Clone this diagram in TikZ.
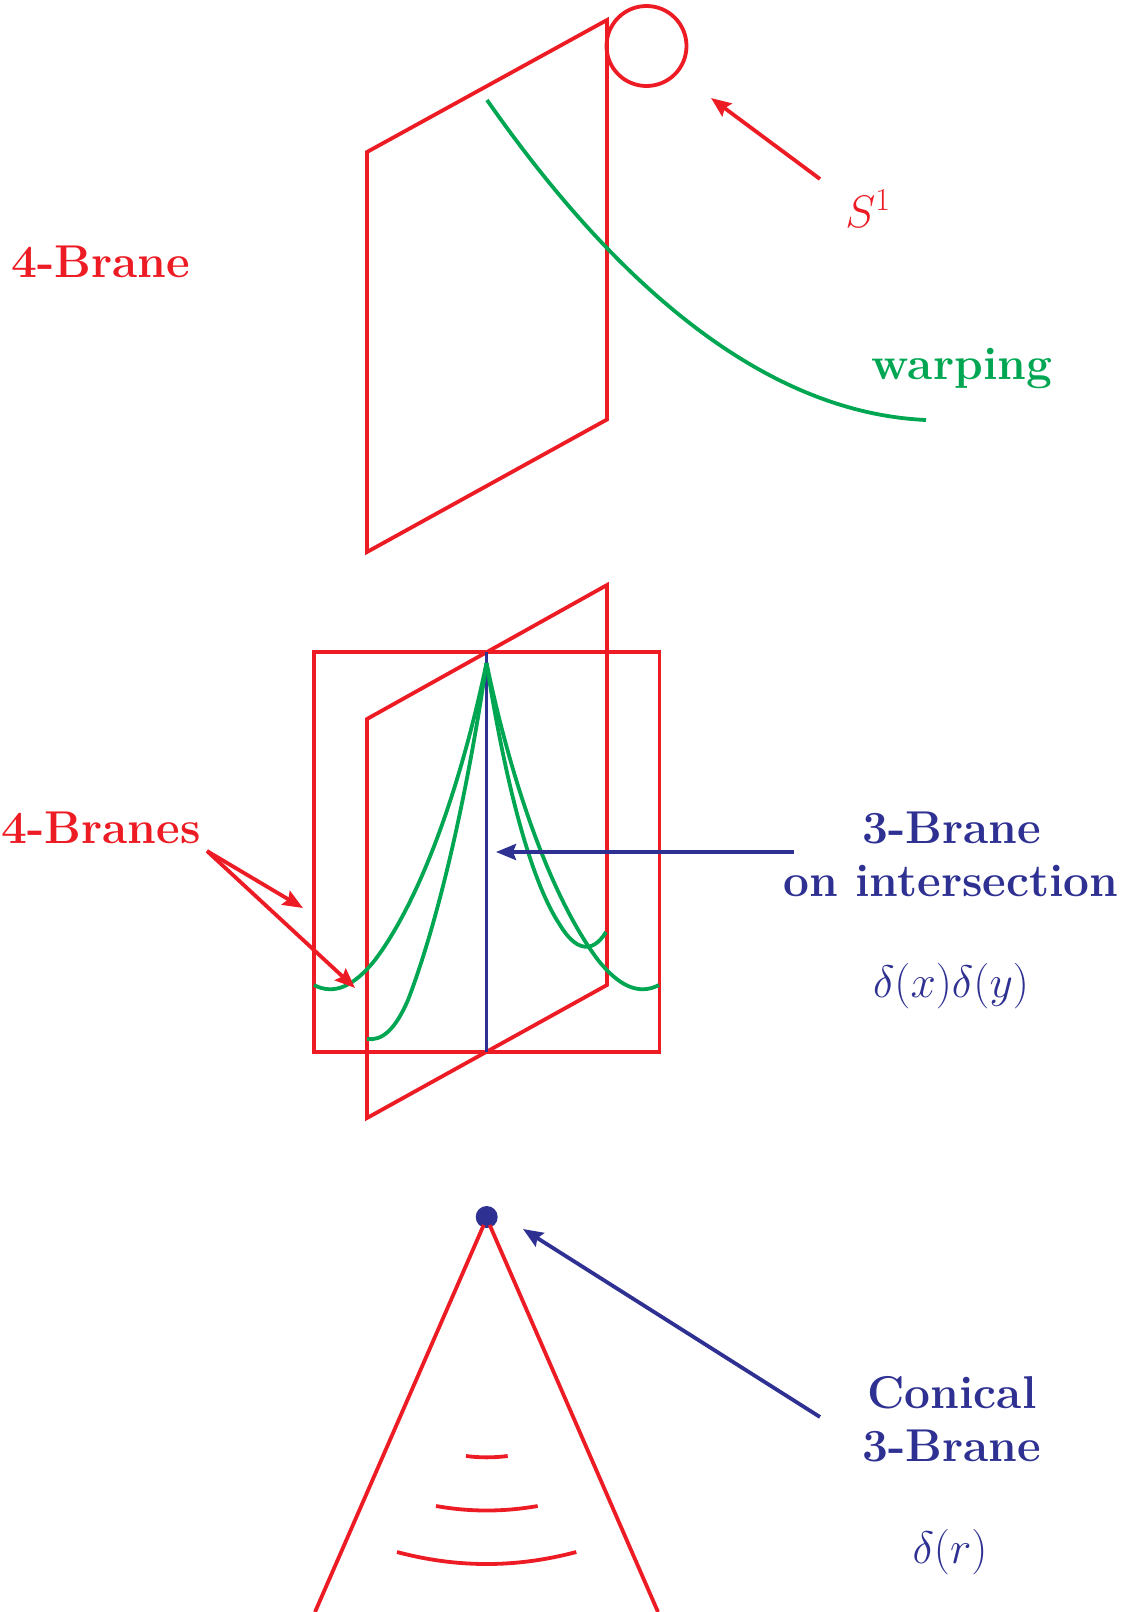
\documentclass[tikz,border=0pt]{standalone}
\usepackage{fix-cm}
\usepackage{fontspec}
\usetikzlibrary{arrows.meta}
\definecolor{bred}{HTML}{ED1C24}
\definecolor{bgreen}{HTML}{00A651}
\definecolor{bblue}{HTML}{2E3192}
\tikzset{
  redline/.style={draw=bred,line width=3.8pt,line join=miter},
  greenline/.style={draw=bgreen,line width=3.8pt},
  blueline/.style={draw=bblue,line width=3.8pt},
  headed/.style={-{Stealth[length=20pt,width=16pt,inset=3pt]}},
  lab/.style={anchor=base,inner sep=0pt,outer sep=0pt,font=\fontsize{46}{55}\selectfont\bfseries},
  mathlab/.style={anchor=base,inner sep=0pt,outer sep=0pt,font=\fontsize{45.5}{55}\selectfont}
}
\begin{document}
\begin{tikzpicture}[x=1pt,y=-1pt]
\useasboundingbox (0,0) rectangle (1127,1612);
% top 4-brane
\draw[redline] (367,152) -- (607,20) -- (607,419.5) -- (367,552) -- cycle;
\node[circle,draw=bred,line width=3.8pt,minimum size=80pt,inner sep=0pt] (circ) at (646.5,46) {};
\draw[greenline] (487,100) .. controls (600,262) and (750,412) .. (926,420);
\coordinate (s1start) at (820,179);
\coordinate (s1tip) at (711,98);
\draw[redline,headed] (s1start) -- (s1tip);
\node[mathlab,text=bred] (s1) at (868,227) {$S^1$};
\node[lab,text=bred] (brane) at (101,277.5) {4-Brane};
\node[lab,text=bgreen] (warp) at (962,379) {warping};
% middle
\draw[redline] (313.6,652) rectangle (659.4,1052);
\draw[redline] (367,719) -- (607,585) -- (607,985) -- (367,1118) -- cycle;
\draw[blueline] (486.5,652) -- (486.5,1052);
\draw[greenline] (486.5,663) .. controls (460,790) and (420,900) .. (375,960) .. controls (355,985) and (335,996) .. (314,985);
\draw[greenline] (486.5,663) .. controls (465,810) and (435,930) .. (408,1000) .. controls (395,1030) and (382,1041) .. (367,1039);
\draw[greenline] (486.5,663) .. controls (513,790) and (553,900) .. (598,960) .. controls (618,985) and (638,996) .. (659,985);
\draw[greenline] (486.5,663) .. controls (505,780) and (530,880) .. (560,925) .. controls (575,950) and (592,955) .. (606,932);
\coordinate (forkstart) at (207,851);
\coordinate (forktipa) at (303,908);
\coordinate (forktipb) at (355,988);
\draw[redline,headed] (forkstart) -- (forktipa);
\draw[redline,headed] (forkstart) -- (forktipb);
\coordinate (inttail) at (794,852);
\coordinate (inttip) at (496,852);
\draw[blueline,headed] (inttail) -- (inttip);
\node[lab,text=bred] (branes) at (101,843) {4-Branes};
\node[lab,text=bblue] (threeb) at (952,843) {3-Brane};
\node[lab,text=bblue] (onint) at (951,896) {on intersection};
\node[mathlab,text=bblue] (dxy) at (951,997) {$\delta(x)\delta(y)$};
% bottom
\node[circle,fill=bblue,minimum size=22pt,inner sep=0pt] (dot) at (486.7,1217) {};
\coordinate (cl) at (315,1612);
\coordinate (cr) at (658,1612);
\draw[redline] (dot.center) ++(-3,8) -- (cl);
\draw[redline] (dot.center) ++(3,8) -- (cr);
\draw[redline] (466,1456) .. controls (480,1457.8) and (493,1457.8) .. (507.7,1456);
\draw[redline] (436,1506) .. controls (470,1512) and (503,1512) .. (537.7,1506);
\draw[redline] (397,1552) .. controls (457,1568) and (516,1568) .. (576.3,1552);
\coordinate (contail) at (820,1417);
\coordinate (contip) at (523,1229);
\draw[blueline,headed] (contail) -- (contip);
\node[lab,text=bblue] (con) at (952,1408) {Conical};
\node[lab,text=bblue] (conb) at (952,1461) {3-Brane};
\node[mathlab,text=bblue] (dr) at (950,1563.5) {$\delta(r)$};
\end{tikzpicture}
\end{document}
